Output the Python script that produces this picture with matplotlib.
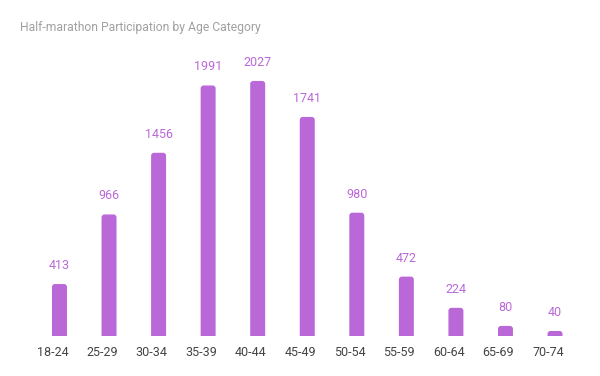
import matplotlib.pyplot as plt
from matplotlib.patches import FancyBboxPatch

categories = ['18-24', '25-29', '30-34', '35-39', '40-44', '45-49',
              '50-54', '55-59', '60-64', '65-69', '70-74']
participants = [413, 966, 1456, 1991, 2027, 1741, 980, 472, 224, 80, 40]

plt.rcParams['font.family'] = ['Roboto', 'DejaVu Sans']
bar_color = '#ba68d8'

fig = plt.figure(figsize=(6, 3.76), dpi=100)
# axes in pixels: left 34.7, right 579.8, bottom at 336 from top
ax = fig.add_axes([34.7 / 600, 40 / 376, (579.8 - 34.7) / 600, 302 / 376])
ax.set_xlim(-0.5, len(categories) - 0.5)
ax.set_ylim(0, 2400)

bar_w = 15 / 49.6
x_per_px = 1 / 49.6
y_per_px = 2400 / 302
for i, v in enumerate(participants):
    patch = FancyBboxPatch((i - bar_w / 2, -50), bar_w, v + 50,
                           boxstyle='round,pad=0,rounding_size=%f' % (3 * x_per_px),
                           mutation_aspect=y_per_px / x_per_px,
                           facecolor=bar_color, edgecolor='none')
    patch.set_clip_on(True)
    ax.add_patch(patch)
    ax.text(i, v + 12 * y_per_px, str(v), ha='center', va='bottom',
            fontsize=9, color=bar_color)

# category labels sit a little left of the bar centres in the original
ax.set_xticks([i - 7 * x_per_px for i in range(len(categories))])
ax.set_xticklabels(categories, fontsize=9, color='#444444')
ax.tick_params(axis='x', length=0, pad=7)
ax.set_yticks([])
for s in ax.spines.values():
    s.set_visible(False)

fig.text(20 / 600, 1 - 27 / 376, 'Half-marathon Participation by Age Category',
         fontsize=8.7, color='#a0a0a0', ha='left', va='center')

fig.savefig('out.png', dpi=100)
